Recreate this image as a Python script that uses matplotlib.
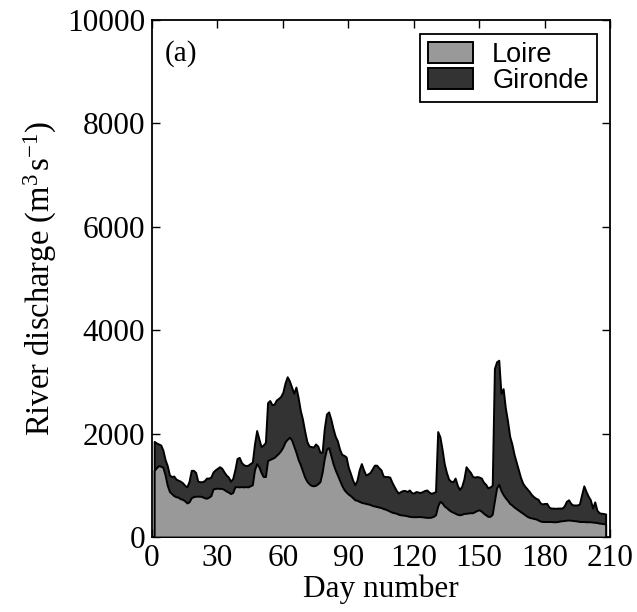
import matplotlib
matplotlib.use("Agg")
import matplotlib.pyplot as plt

# daily readings (m^3/s)
days = list(range(1, 209))
total = [
    1850, 1820, 1800, 1780, 1680, 1500, 1380, 1200, 1170, 1180,
    1120, 1100, 1080, 1050, 1000, 970, 1080, 1290, 1290, 1250,
    1080, 1070, 1070, 1090, 1140, 1140, 1160, 1260, 1300, 1330,
    1360, 1330, 1260, 1200, 1160, 1080, 1130, 1300, 1520, 1540,
    1440, 1400, 1380, 1390, 1420, 1450, 1800, 2060, 1900, 1750,
    1780, 1830, 2600, 2640, 2560, 2570, 2650, 2680, 2720, 2800,
    2980, 3100, 3020, 2900, 2780, 2900, 2700, 2450, 2280, 2050,
    1850, 1760, 1750, 1740, 1800, 1760, 1640, 1640, 2100, 2380,
    2420, 2280, 2100, 1950, 1860, 1700, 1600, 1580, 1550, 1350,
    1230, 1100, 1010, 1100, 1300, 1420, 1300, 1200, 1220, 1250,
    1320, 1390, 1390, 1340, 1300, 1180, 1170, 1170, 1160, 1060,
    980, 900, 850, 880, 900, 900, 880, 910, 860, 850,
    880, 870, 860, 880, 900, 910, 870, 845, 860, 880,
    2040, 1940, 1700, 1420, 1250, 1120, 1080, 1070, 1140, 1000,
    920, 980, 1120, 1360, 1300, 1250, 1170, 1160, 1170, 1160,
    1140, 1060, 1020, 950, 970, 1000, 3260, 3390, 3420, 2780,
    2870, 2500, 2250, 1950, 1800, 1600, 1450, 1300, 1150, 1040,
    980, 930, 880, 820, 780, 750, 730, 660, 640, 650,
    650, 580, 560, 560, 555, 560, 560, 560, 600, 690,
    720, 650, 620, 620, 620, 640, 820, 990, 880, 790,
    720, 560, 680, 520, 470, 460, 455, 445,
]
loire = [
    1290, 1340, 1380, 1370, 1350, 1200, 1000, 880, 840, 800,
    780, 770, 740, 730, 700, 660, 680, 760, 780, 790,
    790, 790, 780, 760, 750, 770, 800, 930, 940, 945,
    940, 940, 920, 890, 870, 840, 860, 970, 975, 970,
    975, 970, 975, 970, 990, 1010, 1300, 1420, 1360, 1250,
    1170, 1170, 1480, 1500, 1520, 1540, 1580, 1620, 1670, 1740,
    1840, 1890, 1930, 1880, 1760, 1640, 1500, 1400, 1280, 1160,
    1080, 1030, 1000, 990, 1000, 1030, 1070, 1250, 1520, 1700,
    1730, 1580, 1420, 1300, 1200, 1100, 1000, 920, 870, 830,
    800, 760, 720, 710, 690, 670, 660, 650, 640, 630,
    610, 600, 590, 580, 570, 550, 540, 520, 500, 480,
    470, 460, 440, 430, 425, 420, 410, 400, 395, 393,
    393, 395, 395, 390, 385, 380, 380, 385, 400, 430,
    600, 690, 660, 600, 570, 530, 500, 480, 460, 440,
    430, 440, 455, 460, 465, 470, 470, 490, 515, 525,
    500, 460, 430, 400, 400, 440, 700, 950, 1020, 900,
    820, 760, 710, 650, 620, 580, 550, 520, 490, 460,
    430, 400, 380, 370, 360, 350, 330, 310, 300, 300,
    300, 300, 300, 295, 295, 300, 310, 315, 320, 325,
    330, 325, 320, 315, 310, 300, 300, 300, 295, 295,
    295, 290, 285, 280, 270, 265, 260, 250,
]
series_names = ["Loire", "Gironde"]
series_colors = ["#999999", "#333333"]
x_ticks = [0, 30, 60, 90, 120, 150, 180, 210]
y_ticks = [0, 2000, 4000, 6000, 8000, 10000]

plt.rcParams["font.family"] = ["Liberation Serif", "DejaVu Serif"]
plt.rcParams["mathtext.fontset"] = "custom"
plt.rcParams["mathtext.rm"] = "Liberation Serif"
plt.rcParams["mathtext.it"] = "Liberation Serif:italic"

fig = plt.figure(figsize=(6.37, 6.12), dpi=100)
ax = fig.add_axes([0.2386, 0.1225, 0.7190, 0.8448])

ax.fill_between(days, 0, total, facecolor=series_colors[1], edgecolor="black",
                linewidth=1.4, label=series_names[1], zorder=2)
ax.fill_between(days, 0, loire, facecolor=series_colors[0], edgecolor="black",
                linewidth=1.4, label=series_names[0], zorder=3)

ax.set_xlim(0, 210)
ax.set_ylim(0, 10000)
ax.set_xticks(x_ticks)
ax.set_yticks(y_ticks)
ax.tick_params(direction="in", length=6, width=1, labelsize=22.5,
               top=True, right=True, pad=5)
for spine in ax.spines.values():
    spine.set_linewidth(1.3)

ax.set_xlabel("Day number", fontsize=22.5, labelpad=1)
ax.set_ylabel(r"River discharge (m$^{3\,}$s$^{-1}$)", fontsize=23.5, labelpad=6)
ax.text(0.028, 0.962, "(a)", transform=ax.transAxes, fontsize=21,
        ha="left", va="top")

handles, labels = ax.get_legend_handles_labels()
leg = ax.legend(handles[::-1], labels[::-1], loc="upper right",
                bbox_to_anchor=(0.9716, 0.973), borderaxespad=0,
                fancybox=False, edgecolor="black", framealpha=1,
                prop={"family": "Liberation Sans", "size": 19.5},
                handlelength=1.67, handleheight=0.78, borderpad=0.3,
                labelspacing=0.0, handletextpad=0.7)
leg.get_frame().set_linewidth(1.3)

fig.savefig("out.png", dpi=100)
